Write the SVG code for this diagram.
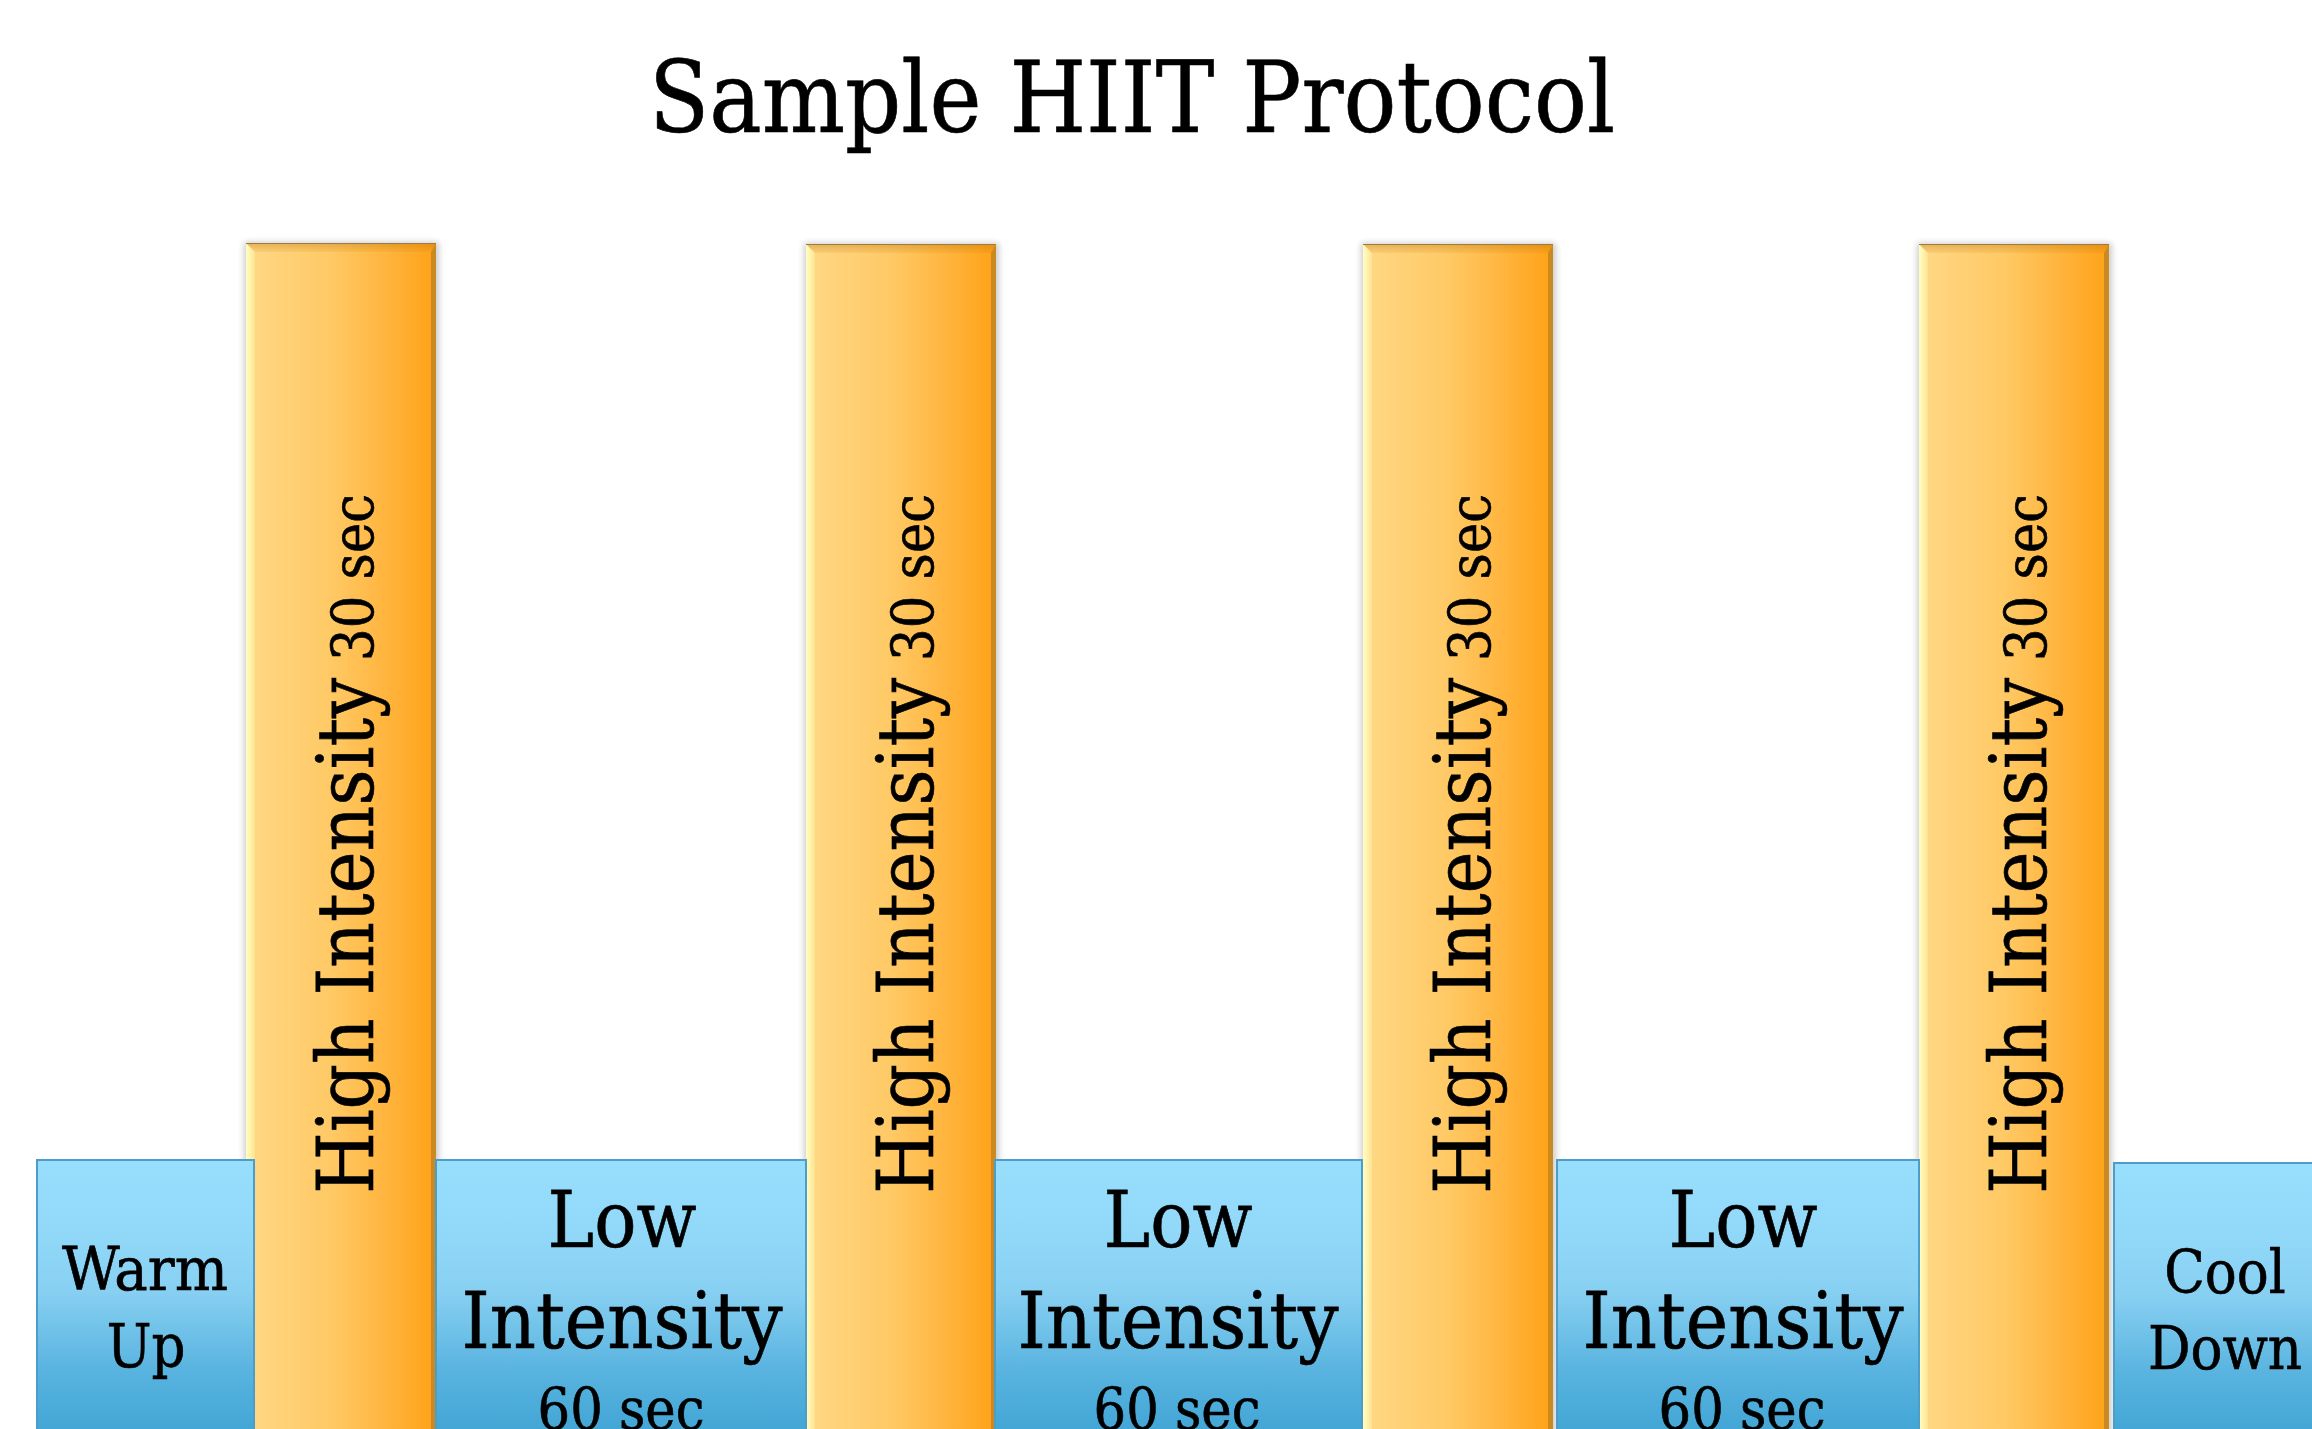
<svg xmlns="http://www.w3.org/2000/svg" xmlns:xlink="http://www.w3.org/1999/xlink" width="2312" height="1429" viewBox="0 0 2312 1429">
<style>
.t{font-family:"DejaVu Serif","Liberation Serif",serif;font-stretch:condensed;fill:#000;stroke:#000;stroke-width:0.6}
.box{fill:url(#blue);stroke:#4C9DC9;stroke-width:2}
.mid{text-anchor:middle}
</style>
<defs>
<linearGradient id="orange" x1="0" y1="0" x2="1" y2="0">
<stop offset="0" stop-color="#FFD886"/>
<stop offset="0.45" stop-color="#FFC965"/>
<stop offset="0.8" stop-color="#FFB035"/>
<stop offset="1" stop-color="#FFA116"/>
</linearGradient>
<linearGradient id="lbev" x1="0" y1="0" x2="1" y2="0">
<stop offset="0" stop-color="#FFFFC4"/>
<stop offset="1" stop-color="#FFE392"/>
</linearGradient>
<linearGradient id="tbev" x1="0" y1="0" x2="0" y2="1">
<stop offset="0" stop-color="#B86E00" stop-opacity="0.35"/>
<stop offset="1" stop-color="#B86E00" stop-opacity="0.08"/>
</linearGradient>
<linearGradient id="blue" x1="0" y1="0" x2="0" y2="1">
<stop offset="0" stop-color="#98DFFE"/>
<stop offset="0.2" stop-color="#93DAFA"/>
<stop offset="0.45" stop-color="#88D0F2"/>
<stop offset="0.73" stop-color="#58B3DF"/>
<stop offset="0.96" stop-color="#40A4D4"/>
<stop offset="1" stop-color="#3EA2D3"/>
</linearGradient>
<filter id="shadow" x="-10%" y="-5%" width="120%" height="110%">
<feGaussianBlur stdDeviation="3"/>
</filter>
<g id="bar">
<rect x="-2" y="-1" width="195" height="1210" fill="#000" opacity="0.2" filter="url(#shadow)"/>
<rect x="0" y="0" width="190" height="1200" fill="url(#orange)"/>
<polygon points="0,0 9,9 9,1200 0,1200" fill="url(#lbev)"/>
<polygon points="0,0 190,0 185,9 9,9" fill="url(#tbev)"/>
<polygon points="190,0 190,1200 185,1200 185,9" fill="#C98A22"/>
<line x1="0" y1="0.5" x2="190" y2="0.5" stroke="#9C7B4A" stroke-width="1"/>
</g>
</defs>
<rect width="2312" height="1429" fill="#fff"/>
<g id="title">
<text class="t mid" x="1132" y="132" font-size="100" textLength="966" lengthAdjust="spacingAndGlyphs">Sample HIIT Protocol</text>
</g>
<g id="high1">
<use xlink:href="#bar" href="#bar" transform="translate(246,243)"/>
<text class="t" font-size="78" transform="translate(373,1194) rotate(-90)" textLength="516" lengthAdjust="spacingAndGlyphs">High Intensity</text>
<text class="t" font-size="57" transform="translate(373,661) rotate(-90)" textLength="167" lengthAdjust="spacingAndGlyphs">30 sec</text>
</g>
<g id="high2">
<use xlink:href="#bar" href="#bar" transform="translate(806,244)"/>
<text class="t" font-size="78" transform="translate(933,1194) rotate(-90)" textLength="516" lengthAdjust="spacingAndGlyphs">High Intensity</text>
<text class="t" font-size="57" transform="translate(933,661) rotate(-90)" textLength="167" lengthAdjust="spacingAndGlyphs">30 sec</text>
</g>
<g id="high3">
<use xlink:href="#bar" href="#bar" transform="translate(1363,244)"/>
<text class="t" font-size="78" transform="translate(1490,1194) rotate(-90)" textLength="516" lengthAdjust="spacingAndGlyphs">High Intensity</text>
<text class="t" font-size="57" transform="translate(1490,661) rotate(-90)" textLength="167" lengthAdjust="spacingAndGlyphs">30 sec</text>
</g>
<g id="high4">
<use xlink:href="#bar" href="#bar" transform="translate(1919,244)"/>
<text class="t" font-size="78" transform="translate(2046,1194) rotate(-90)" textLength="516" lengthAdjust="spacingAndGlyphs">High Intensity</text>
<text class="t" font-size="57" transform="translate(2046,661) rotate(-90)" textLength="167" lengthAdjust="spacingAndGlyphs">30 sec</text>
</g>
<g id="warmup">
<rect class="box" x="37" y="1160" width="217" height="290"/>
<text class="t mid" x="145" y="1290" font-size="59" textLength="166" lengthAdjust="spacingAndGlyphs">Warm</text>
<text class="t mid" x="146" y="1367" font-size="59">Up</text>
</g>
<g id="low1">
<rect class="box" x="436" y="1160" width="370" height="290"/>
<text class="t mid" x="622" y="1247" font-size="78">Low</text>
<text class="t mid" x="622" y="1348" font-size="78" textLength="321" lengthAdjust="spacingAndGlyphs">Intensity</text>
<text class="t mid" x="621" y="1429" font-size="57">60 sec</text>
</g>
<g id="low2">
<rect class="box" x="995" y="1160" width="367" height="290"/>
<text class="t mid" x="1178" y="1247" font-size="78">Low</text>
<text class="t mid" x="1178" y="1348" font-size="78" textLength="321" lengthAdjust="spacingAndGlyphs">Intensity</text>
<text class="t mid" x="1177" y="1429" font-size="57">60 sec</text>
</g>
<g id="low3">
<rect class="box" x="1557" y="1160" width="362" height="290"/>
<text class="t mid" x="1743" y="1247" font-size="78">Low</text>
<text class="t mid" x="1743" y="1348" font-size="78" textLength="321" lengthAdjust="spacingAndGlyphs">Intensity</text>
<text class="t mid" x="1742" y="1429" font-size="57">60 sec</text>
</g>
<g id="cooldown">
<rect class="box" x="2114" y="1163" width="230" height="290"/>
<text class="t mid" x="2225" y="1293" font-size="59">Cool</text>
<text class="t mid" x="2225" y="1369" font-size="59">Down</text>
</g>
<g id="connectors"/>
</svg>
